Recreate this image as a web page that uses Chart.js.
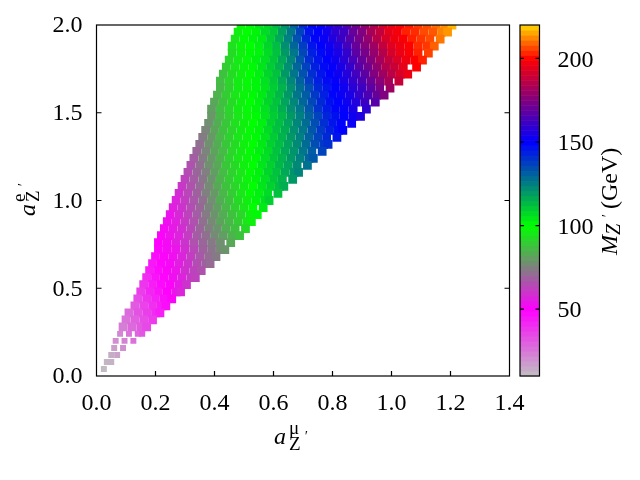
<!DOCTYPE html>
<html><head><meta charset="utf-8">
<style>html,body{margin:0;padding:0;background:#fff}#w{width:640px;height:480px}</style>
<script src="https://cdn.jsdelivr.net/npm/chart.js@4"></script></head>
<body><div id="w"><canvas id="c" width="640" height="480"></canvas></div>
<script>
const xTicks=[0,.2,.4,.6,.8,1,1.2,1.4];
const yTicks=[0,.5,1,1.5,2];
const massTicks=[50,100,150,200];
const paletteMass=[10,50,75,100,125,150,175,200,220];
const paletteColor=[[192,192,192],[255,0,255],[128,128,128],[0,255,0],[0,128,128],[0,0,255],[128,0,128],[255,0,0],[255,215,0]];
const aE=[2,1.96,1.92,1.88,1.84,1.8,1.76,1.72,1.68,1.64,1.6,1.56,1.52,1.48,1.44,1.4,1.36,1.32,1.28,1.24,1.2,1.16,1.12,1.08,1.04,1,.96,.92,.88,.84,.8,.76,.72,.68,.64,.6,.56,.52,.48,.44,.4,.36,.32,.28,.24,.2,.16,.12,.08,.04];
const aMu=[
[.49,.52,.55,.58,.61,.64,.67,.70,.73,.76,.79,.82,.85,.88,.91,.94,.97,1.00,1.03,1.06,1.09,1.12,1.15,1.18,1.205],
[.48,.51,.54,.57,.60,.63,.66,.69,.72,.75,.78,.81,.84,.87,.90,.93,.96,.99,1.02,1.05,1.08,1.11,1.14,1.17,1.19],
[.47,.50,.53,.56,.59,.62,.65,.68,.71,.74,.77,.80,.83,.86,.89,.92,.95,.98,1.01,1.04,1.07,1.10,1.13,1.165],
[.46,.49,.52,.55,.58,.61,.64,.67,.70,.73,.76,.79,.82,.85,.88,.91,.94,.97,1.00,1.03,1.06,1.09,1.12,1.145],
[.46,.49,.52,.55,.58,.61,.64,.67,.70,.73,.76,.79,.82,.85,.88,.91,.94,.97,1.00,1.03,1.06,1.09,1.125],
[.45,.48,.51,.54,.57,.60,.63,.66,.69,.72,.75,.78,.81,.84,.87,.90,.93,.96,.99,1.02,1.05,1.08,1.105],
[.44,.47,.50,.53,.56,.59,.62,.65,.68,.71,.74,.77,.80,.83,.86,.89,.92,.95,.98,1.01,1.04,1.085],
[.43,.46,.49,.52,.55,.58,.61,.64,.67,.70,.73,.76,.79,.82,.85,.88,.91,.94,.97,1.00,1.03,1.055],
[.42,.45,.48,.51,.54,.57,.60,.63,.66,.69,.72,.75,.78,.81,.84,.87,.90,.93,.96,.99,1.025],
[.42,.45,.48,.51,.54,.57,.60,.63,.66,.69,.72,.75,.78,.81,.84,.87,.90,.93,.96,.995],
[.41,.44,.47,.50,.53,.56,.59,.62,.65,.68,.71,.74,.77,.80,.83,.86,.89,.92,.95,.975],
[.40,.43,.46,.49,.52,.55,.58,.61,.64,.67,.70,.73,.76,.79,.82,.85,.88,.91,.945],
[.39,.42,.45,.48,.51,.54,.57,.60,.63,.66,.69,.72,.75,.78,.81,.84,.87,.915],
[.39,.42,.45,.48,.51,.54,.57,.60,.63,.66,.69,.72,.75,.78,.81,.84,.87,.895],
[.38,.41,.44,.47,.50,.53,.56,.59,.62,.65,.68,.71,.74,.77,.80,.83,.865],
[.37,.40,.43,.46,.49,.52,.55,.58,.61,.64,.67,.70,.73,.76,.79,.82,.835],
[.36,.39,.42,.45,.48,.51,.54,.57,.60,.63,.66,.69,.72,.75,.78,.815],
[.35,.38,.41,.44,.47,.50,.53,.56,.59,.62,.65,.68,.71,.74,.77,.785],
[.34,.37,.40,.43,.46,.49,.52,.55,.58,.61,.64,.67,.70,.73,.765],
[.33,.36,.39,.42,.45,.48,.51,.54,.57,.60,.63,.66,.69,.72,.735],
[.32,.35,.38,.41,.44,.47,.50,.53,.56,.59,.62,.65,.68,.715],
[.31,.34,.37,.40,.43,.46,.49,.52,.55,.58,.61,.64,.67,.685],
[.30,.33,.36,.39,.42,.45,.48,.51,.54,.57,.60,.63,.665],
[.29,.32,.35,.38,.41,.44,.47,.50,.53,.56,.59,.62,.635],
[.28,.31,.34,.37,.40,.43,.46,.49,.52,.55,.58,.615],
[.27,.30,.33,.36,.39,.42,.45,.48,.51,.54,.57,.585],
[.26,.29,.32,.35,.38,.41,.44,.47,.50,.53,.565],
[.25,.28,.31,.34,.37,.40,.43,.46,.49,.52,.545],
[.24,.27,.30,.33,.36,.39,.42,.45,.48,.51,.525],
[.23,.26,.29,.32,.35,.38,.41,.44,.47,.505],
[.22,.25,.28,.31,.34,.37,.40,.43,.46,.485],
[.21,.24,.27,.30,.33,.36,.39,.42,.455],
[.21,.24,.27,.30,.33,.36,.39,.42,.435],
[.20,.23,.26,.29,.32,.35,.38,.405],
[.19,.22,.25,.28,.31,.34,.37,.385],
[.18,.21,.24,.27,.30,.33,.355],
[.17,.20,.23,.26,.29,.32,.335],
[.16,.19,.22,.25,.28,.305],
[.15,.18,.21,.24,.27,.285],
[.14,.17,.20,.23,.255],
[.13,.16,.19,.22,.235],
[.11,.14,.17,.20,.215],
[.10,.13,.16,.19],
[.09,.12,.15,.17],
[.08,.11,.14,.155],
[.065,.095,.125],
[.06,.09],
[.05,.07],
[.035,.05],
[.025]];
const massZ=[
[99,101,105,108,114,122,131,142,149,151,156,160,166,172,178,184,191,196,199,202,205,207,210,213,217],
[97,100,102,107,111,119,127,137,146,150,153,159,162,170,175,183,188,195,198,203,204,207,208,212,214],
[95,99,102,104,110,117,125,134,143,149,152,156,161,167,173,179,186,192,197,199,203,205,207,211],
[94,98,100,103,108,113,122,130,138,146,150,153,157,163,170,176,181,188,194,197,200,204,205,209],
[93,97,101,102,107,112,120,127,136,144,148,152,155,160,168,173,179,185,192,196,199,203,206],
[92,96,99,103,106,111,117,124,133,141,146,150,153,158,164,170,176,182,188,193,197,200,203],
[90,95,98,101,105,110,115,122,130,137,144,148,151,155,160,167,172,178,185,189,195,200],
[88,93,97,100,103,108,112,120,127,134,141,146,150,153,157,163,168,175,181,187,192,196],
[87,92,96,99,102,106,111,117,124,131,138,144,148,151,155,160,165,171,177,183,189],
[86,91,96,98,102,105,110,115,122,129,135,142,146,150,153,158,162,168,174,181],
[85,90,95,98,101,104,109,114,120,127,132,139,144,149,152,155,160,165,170,175],
[83,88,93,97,100,103,108,112,118,124,130,136,142,147,150,153,157,162,167],
[81,87,92,96,99,102,106,111,116,122,127,133,140,145,149,151,155,159],
[80,86,91,95,98,101,105,110,114,120,125,131,137,143,147,150,153,156],
[78,84,89,94,97,100,103,109,113,118,124,129,135,141,146,149,152],
[76,82,88,92,96,99,102,107,112,116,122,127,133,139,144,148,150],
[74,80,86,91,95,98,101,105,110,115,120,125,131,137,142,146],
[72,78,84,89,93,97,100,104,109,113,118,123,129,135,139,141],
[70,76,82,87,92,96,99,103,107,112,117,121,127,132,137],
[68,74,80,85,91,95,98,101,106,111,115,120,125,130,133],
[66,72,78,83,89,93,97,100,105,109,114,118,123,128],
[65,70,75,81,87,91,95,99,103,108,112,117,121,124],
[63,68,73,79,85,90,94,98,102,106,111,115,120],
[61,66,71,77,83,88,92,96,100,105,109,113,116],
[59,64,69,75,80,86,90,95,99,103,107,112],
[57,62,67,72,78,84,88,93,97,102,106,109],
[56,60,65,70,76,81,86,91,95,100,104],
[54,58,63,68,74,79,84,88,92,97,101],
[53,56,61,66,72,77,82,86,90,95,97],
[52,55,59,64,70,75,79,84,88,93],
[51,54,57,62,68,72,77,81,85,88],
[50,52,56,60,66,70,74,78,83],
[49,52,54,59,64,69,73,77,79],
[47,51,53,57,62,67,71,74],
[45,49,52,56,60,65,69,71],
[44,48,51,54,59,63,66],
[41,46,49,53,57,61,63],
[39,44,48,51,55,60],
[37,42,46,50,54,57],
[34,39,43,47,51],
[31,36,40,44,47],
[28,33,37,41,44],
[26,30,34,38],
[24,28,31,35],
[22,26,29,32],
[20,23,26],
[17,20],
[14,16],
[12,13],
[11]];

function massColor(m){
  let i=0; while(i<paletteMass.length-2 && m>paletteMass[i+1]) i++;
  const t=Math.min(1,Math.max(0,(m-paletteMass[i])/(paletteMass[i+1]-paletteMass[i])));
  const a=paletteColor[i],b=paletteColor[i+1];
  return `rgb(${a.map((v,k)=>Math.round(v+(b[k]-v)*t)).join(',')})`;
}
const pts=[],cols=[],radii=[];
aE.forEach((e,r)=>aMu[r].forEach((mu,k)=>{pts.push({x:mu,y:e});cols.push(massColor(massZ[r][k]));radii.push(e<.25?4.2:6.2);}));

const SERIF='"Liberation Serif","Times New Roman",serif';
function txt(ctx,s,x,y,size,italic,rot){
  ctx.save();ctx.translate(x,y);if(rot)ctx.rotate(rot);
  ctx.font=(italic?'italic ':'')+size+'px '+SERIF;ctx.fillStyle='#000';
  ctx.textAlign='left';ctx.textBaseline='alphabetic';ctx.fillText(s,0,0);ctx.restore();
}
function noPad(s){s.paddingTop=0;s.paddingBottom=0;s.paddingLeft=0;s.paddingRight=0;}
const decor={id:'decor',
 beforeDatasetsDraw(ch){
  const c=ch.ctx,s=ch.scales.mass;
  for(let v=10;v<220;v+=3){
    const y0=s.getPixelForValue(v),y1=s.getPixelForValue(Math.min(220,v+3));
    c.fillStyle=massColor(v+1.5);c.fillRect(520,y1,19.5,y0-y1+.6);
  }
 },
 afterDatasetsDraw(ch){
  const c=ch.ctx,a=ch.chartArea,X=ch.scales.x,Y=ch.scales.y,M=ch.scales.mass;
  c.save();c.strokeStyle='#000';c.lineWidth=1.2;
  c.strokeRect(a.left,a.top,a.right-a.left,a.bottom-a.top);
  c.strokeRect(520,a.top,19.5,a.bottom-a.top);
  c.beginPath();
  xTicks.slice(1,-1).forEach(v=>{const p=X.getPixelForValue(v);c.moveTo(p,a.bottom);c.lineTo(p,a.bottom-5);});
  yTicks.slice(1,-1).forEach(v=>{const p=Y.getPixelForValue(v);c.moveTo(a.left,p);c.lineTo(a.left+5,p);c.moveTo(a.right,p);c.lineTo(a.right-5,p);});
  massTicks.forEach(v=>{const p=M.getPixelForValue(v);c.moveTo(520,p);c.lineTo(524,p);c.moveTo(539.5,p);c.lineTo(535.5,p);});
  c.stroke();c.restore();
  txt(c,'a',274,444,24,true);
  txt(c,'\u03bc',289,434,19,false);
  txt(c,'Z',289,450,19,false);
  txt(c,'\u2032',304,441,14,true);
  const R=-Math.PI/2;
  txt(c,'a',35,216,24,true,R);
  txt(c,'e',25,202,19,false,R);
  txt(c,'Z',39,202,19,false,R);
  txt(c,'\u2032',28,187,14,true,R);
  txt(c,'M',617,255,24,true,R);
  txt(c,'Z',620,235,20,true,R);
  txt(c,'\u2032',612,218,14,true,R);
  txt(c,'(GeV)',617,209,24,false,R);
 }};
new Chart(document.getElementById('c'),{
 type:'scatter',
 data:{datasets:[{data:pts,pointStyle:'rect',pointRadius:radii,pointHoverRadius:radii,pointBorderWidth:0,pointBackgroundColor:cols}]},
 plugins:[decor],
 options:{responsive:false,animation:false,
  layout:{padding:{top:25,left:0,right:0,bottom:0}},
  plugins:{legend:{display:false},tooltip:{enabled:false}},
  scales:{
   x:{type:'linear',min:0,max:1.4,grid:{display:false,drawTicks:false},border:{display:false},
      afterBuildTicks(s){s.ticks=xTicks.map(v=>({value:v}));},
      afterFit(s){s.height=104;noPad(s);},
      ticks:{padding:13,maxRotation:0,autoSkip:false,color:'#000',font:{family:SERIF,size:24},callback:v=>v.toFixed(1)}},
   y:{type:'linear',min:0,max:2,grid:{display:false,drawTicks:false},border:{display:false},
      afterBuildTicks(s){s.ticks=yTicks.map(v=>({value:v}));},
      afterFit(s){s.width=96.5;noPad(s);},
      ticks:{padding:14,labelOffset:1,color:'#000',font:{family:SERIF,size:24},callback:v=>v.toFixed(1)}},
   mass:{type:'linear',position:'right',min:10,max:220,grid:{display:false,drawTicks:false},border:{display:false},
      afterBuildTicks(s){s.ticks=massTicks.map(v=>({value:v}));},
      afterFit(s){s.width=130.5;noPad(s);},
      ticks:{padding:48,labelOffset:2,color:'#000',crossAlign:'near',font:{family:SERIF,size:24},callback:v=>String(v)}}
  }}
});
</script></body></html>
